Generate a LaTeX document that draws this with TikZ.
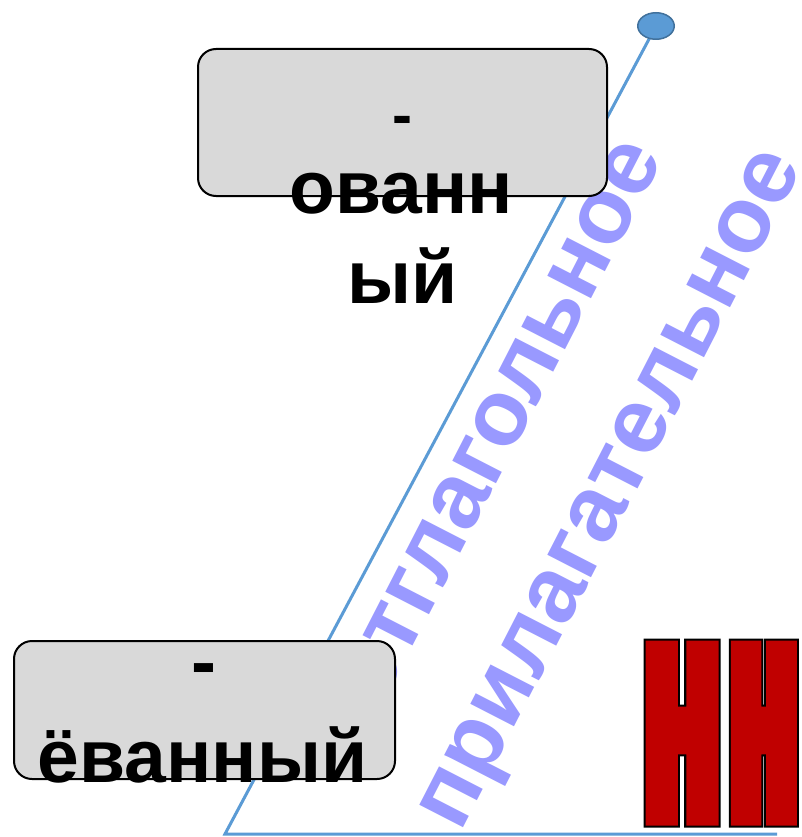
\documentclass[tikz,border=0pt]{standalone}
\usepackage{fontspec}
\setmainfont{Liberation Sans}
\newfontfamily\hhfonta[FakeStretch=0.38]{Liberation Sans}
\newfontfamily\hhfontb[FakeStretch=0.33]{Liberation Sans}
\usetikzlibrary{shapes.geometric}
\definecolor{boxgray}{HTML}{D9D9D9}
\definecolor{lineblue}{HTML}{5B9BD5}
\definecolor{dotedge}{HTML}{41719C}
\definecolor{lilac}{HTML}{9999FF}
\definecolor{hhred}{HTML}{C00000}
\newcommand\strokedtext[2]{\special{pdf:literal direct 2 Tr #1 w 0 j}#2\special{pdf:literal direct 0 Tr}}
\newcommand\hhword{{\hhfonta\bfseries\fontsize{241}{241}\selectfont Н}\kern20pt{\hhfontb\bfseries\fontsize{241}{241}\selectfont Н}}
\begin{document}
\begin{tikzpicture}[x=1pt,y=-1pt,
  box/.style={draw=black, line width=2pt, fill=boxgray, rounded corners=18pt, inner sep=0pt},
  blk/.style={font=\bfseries\fontsize{75}{90}\selectfont, text=black, inner sep=0pt, anchor=base},
  purp/.style={font=\bfseries\fontsize{93}{112}\selectfont, text=lilac, inner sep=0pt, anchor=base, rotate=62.8},
  link/.style={draw=lineblue, line width=3pt},
  hh/.style={inner sep=0pt, anchor=base west}]
\useasboundingbox[fill=white] (0,0) rectangle (802,837);
\node[purp] (adj1) at (522.1,433.7) {отглагольное};
\node[purp] (adj2) at (631.6,500) {прилагательное};
\coordinate (dotc) at (656,26);
\coordinate (corner) at (225,834);
\coordinate (lend) at (777,834);
\draw[link, line join=miter] (dotc) -- (corner) -- (lend);
\node[ellipse, draw=dotedge, fill=lineblue, line width=1.5pt, minimum width=36.5pt, minimum height=26.5pt, inner sep=0pt] (dot) at (dotc) {};
\node[box, minimum width=409pt, minimum height=147pt] (topbox) at (402.5,122.5) {};
\node[box, minimum width=381pt, minimum height=138pt] (botbox) at (204.5,710) {};
\node[blk, font=\bfseries\fontsize{60}{72}\selectfont] (topdash) at (402,135.5) {-};
\node[blk] (t1) at (401,213) {ованн};
\node[blk] (t2) at (402.5,303) {ый};
\node[blk] (bdash) at (203.5,687.5) {-};
\node[blk] (b1) at (202.5,782) {ёванный};
\begin{scope}
\node[hh, text=black] (hhout) at (648.8,816) {\strokedtext{23}{\hhword}};
\node[hh, text=hhred] (hh) at (648.8,816) {\strokedtext{19}{\hhword}};
\end{scope}
\end{tikzpicture}
\end{document}
